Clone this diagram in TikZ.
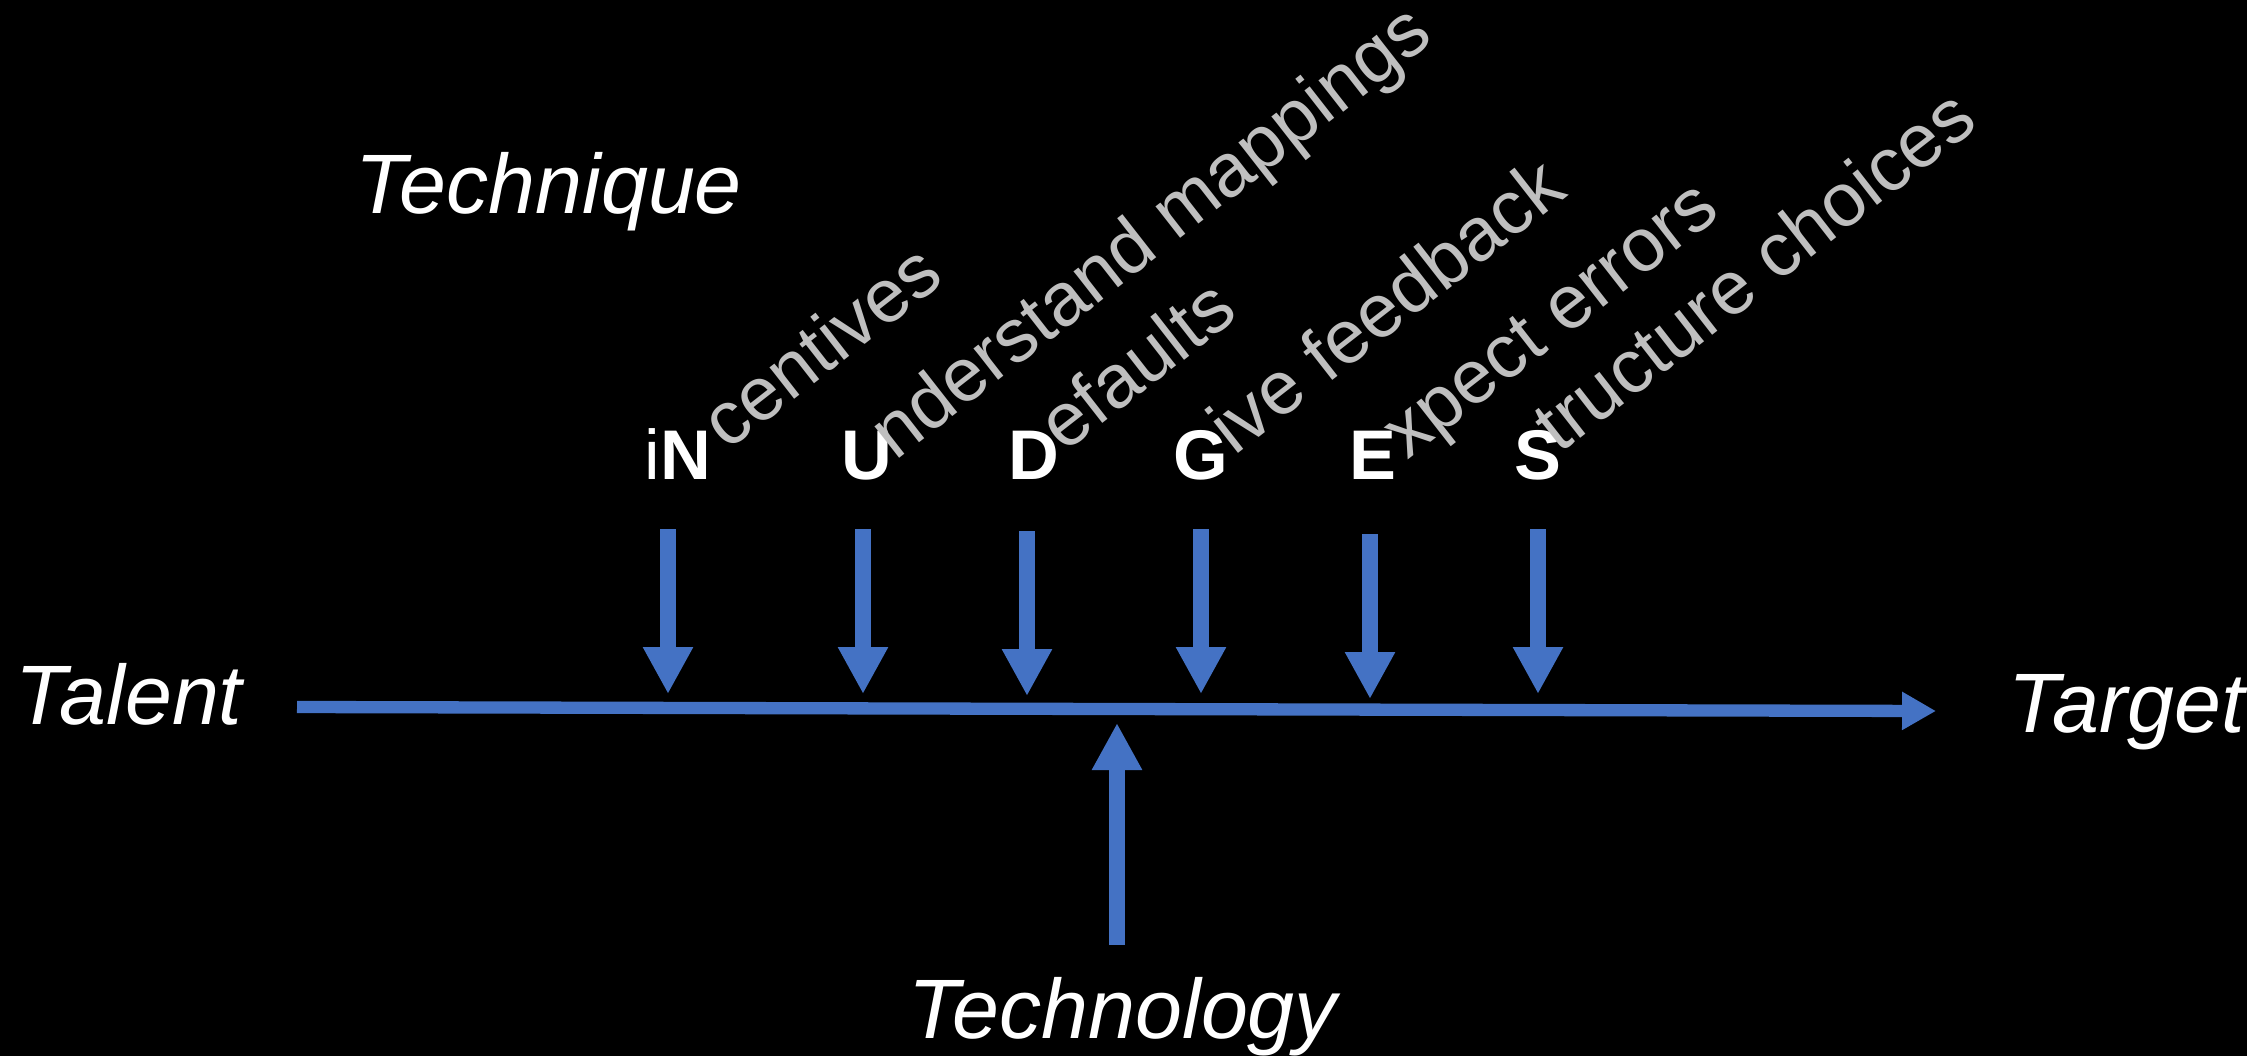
\documentclass[tikz,border=0pt]{standalone}
\usepackage{fontspec}
\setmainfont{Liberation Sans}
\usetikzlibrary{arrows.meta}
\definecolor{nudgeblue}{RGB}{68,114,196}
\definecolor{hintgray}{RGB}{191,191,191}
\tikzset{
  word/.style={text=white, font=\fontsize{24}{28}\selectfont\itshape, inner sep=0pt},
  letter/.style={text=white, font=\fontsize{20}{24}\selectfont\bfseries, inner sep=0pt, anchor=base east},
  hint/.style={text=hintgray, font=\fontsize{21.5}{25}\selectfont, inner sep=0pt, anchor=base west, rotate=38},
  push/.style={nudgeblue, line width=0.166cm, -{Triangle[width=0.47cm,length=0.47cm]}},
  flow/.style={nudgeblue, line width=0.123cm, -{Triangle[width=0.36cm,length=0.34cm]}}
}
\begin{document}
\begin{tikzpicture}
      \fill[black] (0,0) rectangle (22.47,10.56);
      \useasboundingbox (0,0) rectangle (22.47,10.56);
      % the four T's
      \draw
        (0.15,3.32) node[word, anchor=base west] (talent){Talent}
        (20.08,3.24) node[word, anchor=base west] (target){Target}
        (3.55,8.42) node[word, anchor=base west] (technique){Technique}
        (9.08,0.18) node[word, anchor=base west] (technology){Technology};
      % iNUDGES letters
      \draw
        (7.12,5.77) node[letter] (n){{\mdseries i}N}
        (8.93,5.77) node[letter] (u){U}
        (10.60,5.77) node[letter] (d){D}
        (12.29,5.77) node[letter] (g){G}
        (13.97,5.77) node[letter] (e){E}
        (15.62,5.77) node[letter] (s){S};
      \draw
        ([shift={(0.15,0.27)}]n.base east) node[hint] (hn){centives}
        ([shift={(0.02,0.17)}]u.base east) node[hint] (hu){nderstand mappings}
        ([shift={(0.04,0.25)}]d.base east) node[hint] (hd){efaults}
        ([shift={(0.05,0.22)}]g.base east) node[hint] (hg){ive feedback}
        ([shift={(0.10,0.18)}]e.base east) node[hint] (he){xpect errors}
        ([shift={(-0.03,0.24)}]s.base east) node[hint] (hs){tructure choices};
      % arrow ends
      \coordinate (start) at (2.97,3.49);
      \coordinate (goal) at (19.36,3.45);
      \coordinate (n1) at (6.68,5.27); \coordinate (n2) at (6.68,3.62);
      \coordinate (u1) at (8.63,5.27); \coordinate (u2) at (8.63,3.62);
      \coordinate (d1) at (10.27,5.25); \coordinate (d2) at (10.27,3.60);
      \coordinate (g1) at (12.01,5.27); \coordinate (g2) at (12.01,3.62);
      \coordinate (e1) at (13.70,5.22); \coordinate (e2) at (13.70,3.57);
      \coordinate (s1) at (15.38,5.27); \coordinate (s2) at (15.38,3.62);
      \coordinate (t1) at (11.17,1.11); \coordinate (t2) at (11.17,3.33);
      \draw[flow] (start) to (goal);
      \begin{scope}[push]
        \draw (n1) to (n2);
        \draw (u1) to (u2);
        \draw (d1) to (d2);
        \draw (g1) to (g2);
        \draw (e1) to (e2);
        \draw (s1) to (s2);
        \draw (t1) to (t2);
      \end{scope}
    \end{tikzpicture}
\end{document}
